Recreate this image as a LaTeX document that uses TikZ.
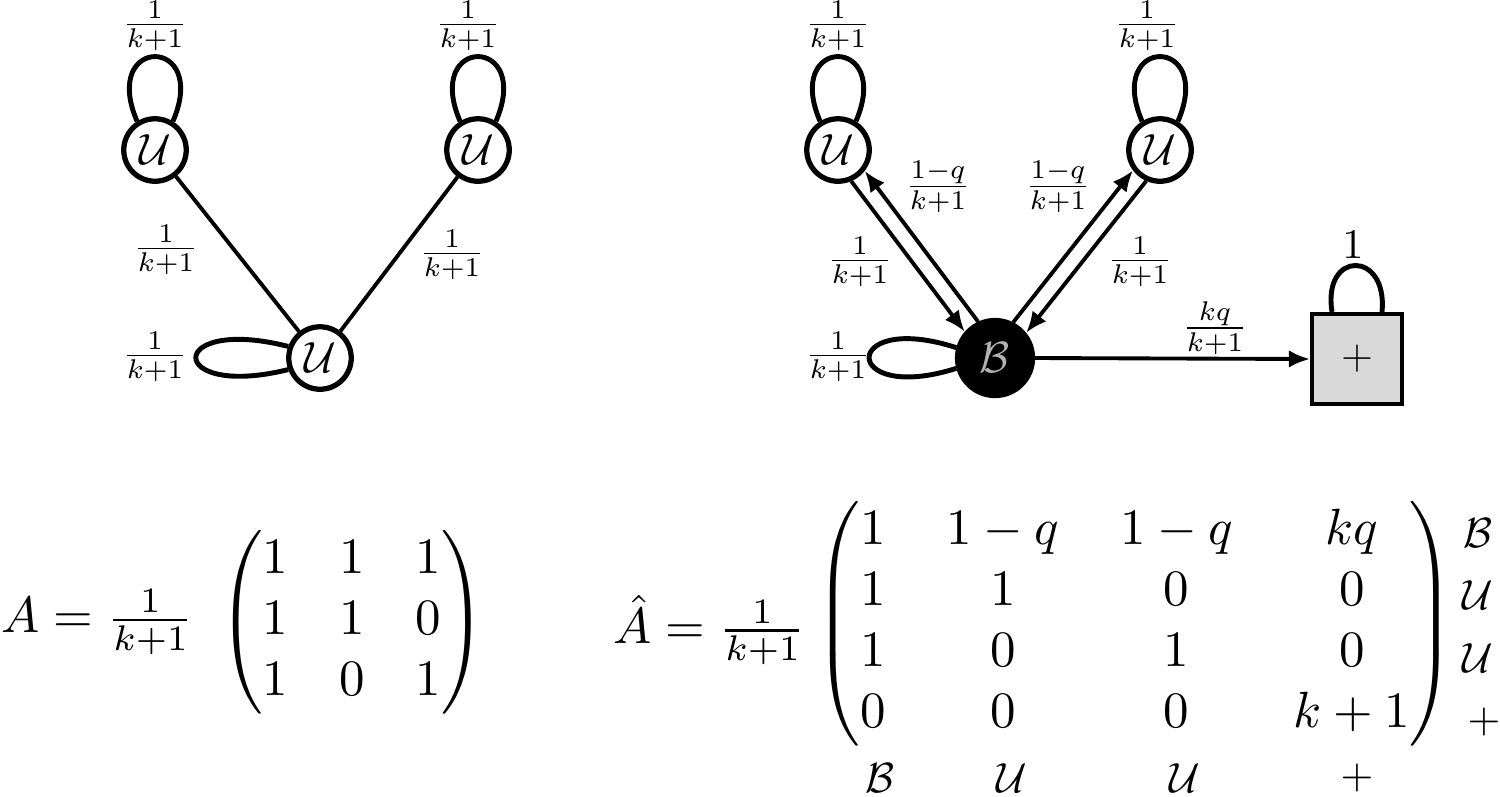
\documentclass[tikz,border=0pt]{standalone}
\usepackage{amsmath}
\usetikzlibrary{arrows.meta,calc}
\begin{document}
\begin{tikzpicture}[x=0.02cm,y=-0.02cm,
  st/.style={circle,draw,line width=3pt,minimum size=1.25cm,inner sep=0pt,font=\Huge},
  lab/.style={scale=2.2,inner sep=0pt},
  big/.style={scale=2.9,inner sep=0pt},
  ed/.style={line width=2.2pt},
  arr/.style={line width=2.2pt,-{Latex[length=12pt,width=10pt]}},
  lp/.style={line width=2.8pt},
  sl/.style={scale=2.4}]
\useasboundingbox (0,0) rectangle (1500,796);
% left graph
\node[st] (u1) at (155,150) {$\mathcal{U}$};
\node[st] (u2) at (478,150) {$\mathcal{U}$};
\node[st] (u3) at (320,358) {$\mathcal{U}$};
\draw[ed] (u1) -- (u3);
\draw[ed] (u2) -- (u3);
\draw[lp] (u1.122) .. controls (100,35) and (210,35) .. (u1.58);
\draw[lp] (u2.122) .. controls (423,35) and (533,35) .. (u2.58);
\draw[lp] (u3.160) .. controls (165,315) and (165,400) .. (u3.200);
\node[lab] (l1) at (155,26) {$\tfrac{1}{k+1}$};
\node[lab] (l2) at (468,26) {$\tfrac{1}{k+1}$};
\node[lab] (l3) at (166,250) {$\tfrac{1}{k+1}$};
\node[lab] (l4) at (452,255) {$\tfrac{1}{k+1}$};
\node[lab] (l5) at (155,357) {$\tfrac{1}{k+1}$};
% right graph
\node[st] (u4) at (838,150) {$\mathcal{U}$};
\node[st] (u5) at (1160,150) {$\mathcal{U}$};
\node[st,fill=black,minimum size=1.5cm,text=gray!60] (b) at (995,358) {$\mathcal{B}$};
\node[draw,line width=2.4pt,fill=gray!30,minimum size=1.8cm,inner sep=0pt,font=\Huge] (sq) at (1357,359) {$+$};
\draw[arr] (u4.-67.5) -- (b.139);
\draw[arr] (b.115) -- (u4.-38.5);
\draw[arr] (u5.246) -- (b.39.6);
\draw[arr] (b.63.6) -- (u5.217);
\draw[arr] (b.east) -- (sq.west);
\draw[lp] (u4.122) .. controls (783,35) and (893,35) .. (u4.58);
\draw[lp] (u5.122) .. controls (1105,35) and (1215,35) .. (u5.58);
\draw[lp] (b.165) .. controls (840,310) and (840,405) .. (b.195);
\draw[lp] ([xshift=-0.5cm]sq.north) .. controls (1322,250) and (1388,250) .. ([xshift=0.5cm]sq.north);
\node[lab] (l6) at (838,26) {$\tfrac{1}{k+1}$};
\node[lab] (l7) at (1147,26) {$\tfrac{1}{k+1}$};
\node[lab] (l8) at (938,187) {$\tfrac{1-q}{k+1}$};
\node[lab] (l9) at (1058,187) {$\tfrac{1-q}{k+1}$};
\node[lab] (l10) at (860,262) {$\tfrac{1}{k+1}$};
\node[lab] (l11) at (1140,262) {$\tfrac{1}{k+1}$};
\node[lab] (l12) at (838,357) {$\tfrac{1}{k+1}$};
\node[lab] (l13) at (1215,328) {$\tfrac{kq}{k+1}$};
\node[scale=2.4] (l14) at (1353,245) {$1$};
% matrices
\node[big,anchor=west] (ea) at (0,622) {$A=\tfrac{1}{k+1}$};
\node[big] (ma) at (352,622) {$\begin{pmatrix}1&1&1\\1&1&0\\1&0&1\end{pmatrix}$};
\node[big,anchor=west] (eb) at (612,630) {$\hat A=\tfrac{1}{k+1}$};
\node[big] (mb) at (1135,624) {$\setlength\arraycolsep{6pt}\begin{pmatrix}1&1-q&1-q&kq\\1&1&0&0\\1&0&1&0\\0&0&0&k+1\end{pmatrix}$};
\node[sl] (r1) at (1478,533) {$\mathcal{B}$};
\node[sl] (r2) at (1478,595) {$\mathcal{U}$};
\node[sl] (r3) at (1478,658) {$\mathcal{U}$};
\node[sl] (r4) at (1484,722) {$+$};
\node[sl] (c1) at (880,778) {$\mathcal{B}$};
\node[sl] (c2) at (1012,778) {$\mathcal{U}$};
\node[sl] (c3) at (1185,778) {$\mathcal{U}$};
\node[sl] (c4) at (1357,778) {$+$};
\end{tikzpicture}
\end{document}
